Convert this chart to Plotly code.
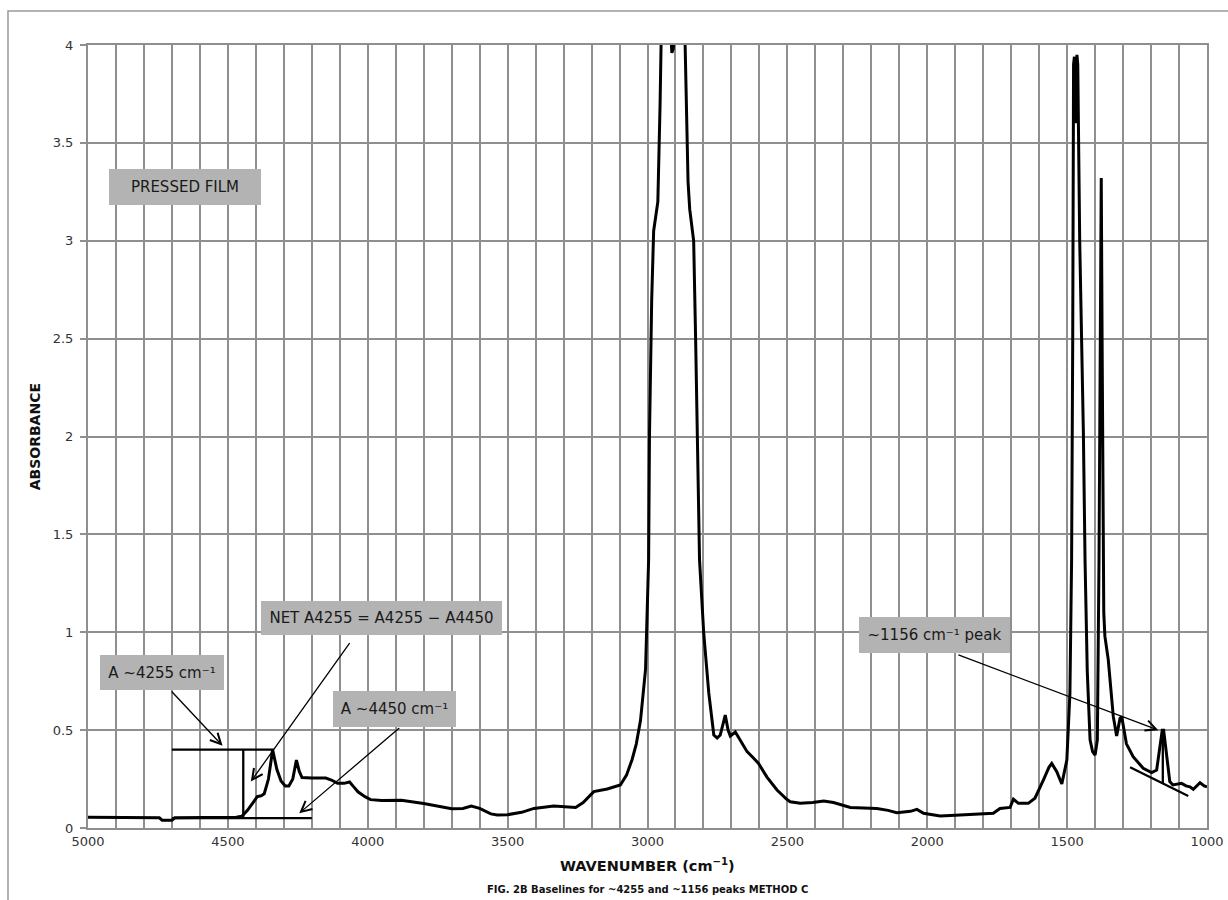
import plotly.graph_objects as go

# IR absorbance spectrum of a pressed polyethylene film
wavenumber = [
    5000, 4900, 4800, 4745, 4735, 4700, 4690, 4600, 4500, 4470, 4450, 4430,
    4410, 4395, 4380, 4370, 4355, 4340, 4325, 4310, 4295, 4282, 4268, 4255,
    4245, 4235, 4200, 4150, 4130, 4108, 4085, 4065, 4050, 4035, 4010, 3990,
    3950, 3880, 3800, 3700, 3660, 3630, 3600, 3560, 3537, 3500, 3450, 3406,
    3335, 3290, 3257, 3230, 3192, 3144, 3097, 3075, 3055, 3040, 3025, 3007,
    2996, 2993, 2985, 2978, 2972, 2963, 2955, 2948, 2930, 2918, 2913, 2908,
    2903, 2890, 2870, 2862, 2855, 2849, 2843, 2835, 2828, 2820, 2814, 2799,
    2781, 2763, 2751, 2740, 2730, 2722, 2712, 2704, 2686, 2665, 2644, 2623,
    2603, 2573, 2537, 2505, 2490, 2454, 2410, 2370, 2335, 2275, 2216, 2180,
    2140, 2109, 2060, 2037, 2013, 1954, 1900, 1859, 1800, 1764, 1740, 1704,
    1692, 1674, 1639, 1615, 1585, 1565, 1555, 1537, 1519, 1501, 1490, 1484,
    1480, 1477, 1474, 1469, 1465, 1462, 1455, 1442, 1436, 1428, 1418, 1409,
    1400, 1392, 1386, 1382, 1378, 1375, 1372, 1369, 1365, 1353, 1335, 1323,
    1311, 1305, 1288, 1264, 1228, 1198, 1180, 1168, 1160, 1155, 1144, 1133,
    1122, 1091, 1075, 1061, 1049, 1035, 1025, 1010, 1000,
]
absorbance = [
    0.055, 0.055, 0.053, 0.052, 0.040, 0.040, 0.052, 0.053, 0.053, 0.055, 0.060, 0.090,
    0.130, 0.160, 0.165, 0.175, 0.250, 0.400, 0.300, 0.240, 0.215, 0.215, 0.250, 0.347,
    0.290, 0.258, 0.255, 0.255, 0.245, 0.228, 0.228, 0.235, 0.210, 0.185, 0.160, 0.145,
    0.140, 0.142, 0.125, 0.098, 0.100, 0.112, 0.100, 0.072, 0.066, 0.068, 0.080, 0.100,
    0.112, 0.110, 0.105, 0.130, 0.186, 0.199, 0.220, 0.270, 0.350, 0.430, 0.550, 0.810,
    1.370, 2.000, 2.700, 3.050, 3.120, 3.200, 3.700, 4.300, 4.500, 4.100, 3.960, 3.980,
    4.100, 4.500, 4.300, 3.800, 3.300, 3.160, 3.100, 3.000, 2.500, 1.850, 1.370, 0.995,
    0.690, 0.475, 0.460, 0.475, 0.530, 0.577, 0.500, 0.470, 0.490, 0.440, 0.390, 0.360,
    0.330, 0.260, 0.194, 0.150, 0.134, 0.126, 0.130, 0.138, 0.130, 0.105, 0.100, 0.100,
    0.090, 0.078, 0.085, 0.095, 0.075, 0.061, 0.065, 0.068, 0.072, 0.075, 0.100, 0.105,
    0.147, 0.126, 0.126, 0.152, 0.245, 0.310, 0.330, 0.288, 0.225, 0.347, 0.690, 1.370,
    2.500, 3.900, 3.940, 3.600, 3.950, 3.900, 3.000, 2.030, 1.370, 0.800, 0.450, 0.390,
    0.373, 0.450, 1.370, 2.800, 3.320, 2.500, 1.600, 1.100, 0.980, 0.860, 0.570, 0.470,
    0.560, 0.570, 0.430, 0.364, 0.305, 0.283, 0.296, 0.415, 0.500, 0.500, 0.380, 0.237,
    0.220, 0.228, 0.215, 0.210, 0.198, 0.215, 0.231, 0.215, 0.210,
]

# Baseline construction lines (wavenumber pairs, absorbance pairs)
base_4450_x, base_4450_y = [4700, 4200], [0.05, 0.05]
top_4255_x, top_4255_y = [4700, 4335], [0.40, 0.40]
net_4255_x, net_4255_y = [4445, 4445], [0.05, 0.40]
tangent_1156_x, tangent_1156_y = [1275, 1067], [0.31, 0.163]
drop_1156_x, drop_1156_y = [1158, 1158], [0.50, 0.225]
reference_level = 0.05

# Callout labels: text, centre (wavenumber, absorbance), box size in px
labels = [
    ("PRESSED FILM", 4654, 3.275, 152, 36),
    ("A ~4255 cm⁻¹", 4737, 0.794, 124, 35),
    ("NET A4255 = A4255 − A4450", 3951, 1.073, 241, 34),
    ("A ~4450 cm⁻¹", 3906, 0.609, 123, 36),
    ("~1156 cm⁻¹ peak", 1975, 0.986, 151, 36),
]
# Arrows: tail (wavenumber, absorbance) -> head (wavenumber, absorbance)
arrows = [
    (4706, 0.705, 4519, 0.420),
    (4061, 0.952, 4418, 0.237),
    (3882, 0.517, 4245, 0.075),
    (1894, 0.887, 1174, 0.500),
]

FONT = "DejaVu Sans"
GRID = "#8f8f8f"

fig = go.Figure()

fig.add_trace(go.Scatter(
    x=wavenumber, y=absorbance, mode="lines",
    line=dict(color="black", width=3), hoverinfo="skip", showlegend=False,
))

for sx, sy in [(base_4450_x, base_4450_y), (top_4255_x, top_4255_y),
               (net_4255_x, net_4255_y), (tangent_1156_x, tangent_1156_y),
               (drop_1156_x, drop_1156_y)]:
    fig.add_trace(go.Scatter(
        x=sx, y=sy, mode="lines", line=dict(color="black", width=2.3),
        hoverinfo="skip", showlegend=False,
    ))

# faint horizontal reference level across the plot
fig.add_hline(y=reference_level, line=dict(color=GRID, width=1.6), layer="below")

annotations = []
for text, xc, yc, w, h in labels:
    annotations.append(dict(
        x=xc, y=yc, xref="x", yref="y", text=text, showarrow=False,
        width=w, height=h, bgcolor="#b3b3b3", borderpad=0, borderwidth=0,
        font=dict(family=FONT, size=15, color="#1a1a1a"),
        xanchor="center", yanchor="middle", align="center", valign="middle",
    ))
for x0, y0, x1, y1 in arrows:
    annotations.append(dict(
        x=x1, y=y1, ax=x0, ay=y0, xref="x", yref="y", axref="x", ayref="y",
        text="", showarrow=True, arrowhead=5, arrowsize=1.6, arrowwidth=1.3,
        arrowcolor="black", standoff=0,
    ))

# axis titles and caption
annotations += [
    dict(x=0.5, y=-0.0475, xref="paper", yref="paper",
         text="<b>WAVENUMBER (cm<sup>−1</sup>)</b>", showarrow=False,
         font=dict(family=FONT, size=14.5, color="#111"),
         xanchor="center", yanchor="middle"),
    dict(x=0.5, y=-0.079, xref="paper", yref="paper",
         text="<b>FIG. 2B Baselines for ~4255 and ~1156 peaks METHOD C</b>",
         showarrow=False, font=dict(family=FONT, size=10, color="#111"),
         xanchor="center", yanchor="middle"),
    dict(x=-0.0475, y=0.5, xref="paper", yref="paper", textangle=-90,
         text="<b>ABSORBANCE</b>", showarrow=False,
         font=dict(family=FONT, size=14, color="#111"),
         xanchor="center", yanchor="middle"),
]

# outer chart frame (left and top edges visible within the page)
frame = [
    dict(type="rect", xref="paper", yref="paper", x0=-0.0715, x1=1.08,
         y0=-0.2, y1=1.0434, line=dict(color="#9a9a9a", width=1.5),
         fillcolor="rgba(0,0,0,0)", layer="below"),
]

fig.update_layout(
    template="none",
    width=1228, height=900,
    margin=dict(l=88, r=21, t=45, b=72, autoexpand=False),
    paper_bgcolor="white", plot_bgcolor="white",
    font=dict(family=FONT, size=13, color="#333"),
    annotations=annotations, shapes=frame,
    showlegend=False,
    xaxis=dict(
        range=[5000, 1000], tickmode="linear", tick0=1000, dtick=500,
        showgrid=True, gridcolor=GRID, gridwidth=2, automargin=False,
        minor=dict(dtick=100, tick0=1000, showgrid=True, gridcolor=GRID, gridwidth=2),
        showline=True, linecolor=GRID, linewidth=2, mirror=True,
        ticks="", zeroline=False,
        tickfont=dict(family=FONT, size=13, color="#333"),
    ),
    yaxis=dict(
        range=[0, 4], tickmode="linear", tick0=0, dtick=0.5,
        showgrid=True, gridcolor=GRID, gridwidth=2, automargin=False,
        showline=True, linecolor=GRID, linewidth=2, mirror=True,
        ticks="outside", ticklen=6, tickcolor=GRID, tickwidth=2,
        zeroline=False, ticklabelstandoff=4,
        tickfont=dict(family=FONT, size=13, color="#333"),
    ),
)

fig.write_html("out.html")
